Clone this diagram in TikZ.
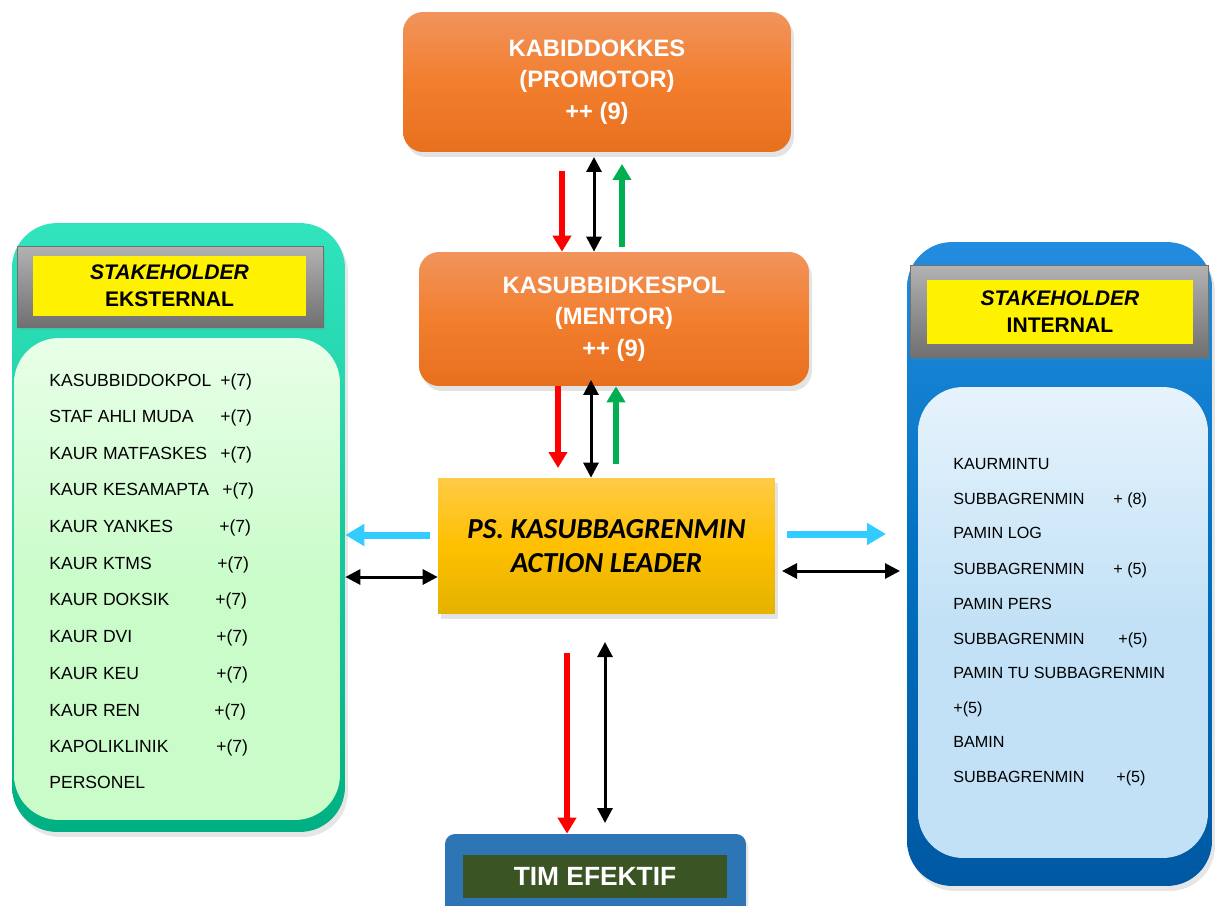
\documentclass[tikz,border=0pt]{standalone}
\usepackage{fontspec}
\setmainfont{Liberation Sans}
\newfontfamily\calibrifont{Carlito}
\usetikzlibrary{arrows.meta,shadows}

\definecolor{orTop}{RGB}{241,148,92}
\definecolor{orMid}{RGB}{242,126,46}
\definecolor{orBot}{RGB}{231,112,30}
\definecolor{gdTop}{RGB}{255,202,70}
\definecolor{gdMid}{RGB}{255,192,0}
\definecolor{gdBot}{RGB}{228,178,0}
\definecolor{tlTop}{RGB}{50,228,190}
\definecolor{tlBot}{RGB}{0,176,130}
\definecolor{lgTop}{RGB}{232,255,232}
\definecolor{lgBot}{RGB}{202,252,202}
\definecolor{blTop}{RGB}{35,140,222}
\definecolor{blMid}{RGB}{0,112,192}
\definecolor{blBot}{RGB}{0,88,162}
\definecolor{lbTop}{RGB}{230,243,252}
\definecolor{lbBot}{RGB}{194,225,246}
\definecolor{bvTop}{RGB}{178,178,178}
\definecolor{bvBot}{RGB}{112,112,112}
\definecolor{timBlue}{RGB}{46,117,182}
\definecolor{timGreen}{RGB}{58,84,36}
\definecolor{arRed}{RGB}{255,0,0}
\definecolor{arGreen}{RGB}{0,176,80}
\definecolor{arCyan}{RGB}{51,204,255}

\begin{document}
\begin{tikzpicture}[x=0.02cm, y=-0.02cm,
	orangebox/.style={rounded corners=0.4cm, top color=orTop, bottom color=orBot, middle color=orMid, text=white, align=center, font=\bfseries\fontsize{13.5}{18}\selectfont, drop shadow={opacity=0.22, shadow xshift=0.06cm, shadow yshift=-0.1cm}},
	leaderbox/.style={top color=gdTop, bottom color=gdBot, middle color=gdMid, align=center, font=\calibrifont\bfseries\itshape\fontsize{16.5}{19.8}\selectfont, drop shadow={opacity=0.22, shadow xshift=0.06cm, shadow yshift=-0.1cm}},
	outerbox/.style={rounded corners=0.9cm, drop shadow={opacity=0.2, shadow xshift=0.06cm, shadow yshift=-0.1cm}},
	panel/.style={rounded corners=0.9cm},
	bevel/.style={top color=bvTop, bottom color=bvBot, draw=bvBot, drop shadow={opacity=0.2, shadow xshift=0.04cm, shadow yshift=-0.06cm}},
	yellowlabel/.style={fill=yellow, align=center, font=\bfseries\fontsize{12}{15.3}\selectfont},
	item/.style={anchor=west, inner sep=0pt, text height=1.6ex, text depth=0.4ex, font=\fontsize{10}{12}\selectfont},
	itemsm/.style={anchor=west, inner sep=0pt, text height=1.6ex, text depth=0.4ex, font=\fontsize{9.2}{11}\selectfont},
	redarr/.style={draw=arRed, line width=0.12cm, -{Triangle[length=0.32cm, width=0.36cm]}},
	grnarr/.style={draw=arGreen, line width=0.12cm, -{Triangle[length=0.32cm, width=0.36cm]}},
	blkarr/.style={draw=black, line width=0.06cm, {Triangle[length=0.3cm, width=0.3cm]}-{Triangle[length=0.3cm, width=0.3cm]}},
	cyanarr/.style={draw=arCyan, line width=0.14cm, -{Triangle[length=0.38cm, width=0.42cm]}}]
	\useasboundingbox (0,0) rectangle (1215,906);

	\node[orangebox, minimum width=7.76cm, minimum height=2.8cm] (promotor) at (597,82) {KABIDDOKKES\\(PROMOTOR)\\++ (9)};
	\node[orangebox, minimum width=7.8cm, minimum height=2.68cm] (mentor) at (614,319) {KASUBBIDKESPOL\\(MENTOR)\\++ (9)};
	\node[leaderbox, minimum width=6.74cm, minimum height=2.72cm] (leader) at (606.5,546) {PS. KASUBBAGRENMIN\\ACTION LEADER};

	\node[outerbox, top color=tlTop, bottom color=tlBot, minimum width=6.66cm, minimum height=12.18cm] (eks) at (178.5,527.5) {};
	\node[panel, top color=lgTop, bottom color=lgBot, middle color=lgBot, minimum width=6.52cm, minimum height=9.64cm] (ekspanel) at (177,579) {};
	\node[bevel, minimum width=6.12cm, minimum height=1.62cm] (eksframe) at (170,286.5) {};
	\node[yellowlabel, minimum width=5.46cm, minimum height=1.2cm] (ekslabel) at (169.5,286) {\textit{STAKEHOLDER}\\EKSTERNAL};

	\node[item] (e1) at (49,381) {KASUBBIDDOKPOL};
	\node[item] (v1) at (220,381) {+(7)};
	\node[item] (e2) at (49,417) {STAF AHLI MUDA};
	\node[item] (v2) at (220,417) {+(7)};
	\node[item] (e3) at (49,454) {KAUR MATFASKES};
	\node[item] (v3) at (220,454) {+(7)};
	\node[item] (e4) at (49,490) {KAUR KESAMAPTA};
	\node[item] (v4) at (222,490) {+(7)};
	\node[item] (e5) at (49,527) {KAUR YANKES};
	\node[item] (v5) at (219,527) {+(7)};
	\node[item] (e6) at (49,564) {KAUR KTMS};
	\node[item] (v6) at (217,564) {+(7)};
	\node[item] (e7) at (49,600) {KAUR DOKSIK};
	\node[item] (v7) at (215,600) {+(7)};
	\node[item] (e8) at (49,637) {KAUR DVI};
	\node[item] (v8) at (216,637) {+(7)};
	\node[item] (e9) at (49,674) {KAUR KEU};
	\node[item] (v9) at (216,674) {+(7)};
	\node[item] (e10) at (49,711) {KAUR REN};
	\node[item] (v10) at (214,711) {+(7)};
	\node[item] (e11) at (49,747) {KAPOLIKLINIK};
	\node[item] (v11) at (216,747) {+(7)};
	\node[item] (e12) at (49,783) {PERSONEL};

	\node[outerbox, top color=blTop, bottom color=blBot, middle color=blMid, minimum width=6.1cm, minimum height=12.88cm] (int) at (1059.5,564) {};
	\node[panel, top color=lbTop, bottom color=lbBot, middle color=lbBot, minimum width=5.8cm, minimum height=9.42cm] (intpanel) at (1063,622.5) {};
	\node[bevel, minimum width=5.96cm, minimum height=1.84cm] (intframe) at (1059,311) {};
	\node[yellowlabel, minimum width=5.32cm, minimum height=1.28cm] (intlabel) at (1060,312) {\textit{STAKEHOLDER}\\INTERNAL};

	\node[itemsm] (i1) at (953,464) {KAURMINTU};
	\node[itemsm] (i2) at (953,499) {SUBBAGRENMIN};
	\node[itemsm] (w2) at (1113,499) {+ (8)};
	\node[itemsm] (i3) at (953,533) {PAMIN LOG};
	\node[itemsm] (i4) at (953,569) {SUBBAGRENMIN};
	\node[itemsm] (w4) at (1113,569) {+ (5)};
	\node[itemsm] (i5) at (953,604) {PAMIN PERS};
	\node[itemsm] (i6) at (953,639) {SUBBAGRENMIN};
	\node[itemsm] (w6) at (1118,639) {+(5)};
	\node[itemsm] (i7) at (953,673) {PAMIN TU SUBBAGRENMIN};
	\node[itemsm] (i8) at (953,708) {+(5)};
	\node[itemsm] (i9) at (953,742) {BAMIN};
	\node[itemsm] (i10) at (953,777) {SUBBAGRENMIN};
	\node[itemsm] (w10) at (1116,777) {+(5)};

	\node[rounded corners=0.2cm, fill=timBlue, minimum width=6.02cm, minimum height=1.72cm, drop shadow={opacity=0.2, shadow xshift=0.05cm, shadow yshift=-0.08cm}] (timbox) at (595.5,877) {};
	\node[fill=timGreen, text=white, minimum width=5.28cm, minimum height=0.86cm, font=\bfseries\fontsize{15}{17}\selectfont] (tim) at (595,876.5) {TIM EFEKTIF};

	\coordinate (r1) at (562,171);
	\draw[redarr] (r1) -- (r1 |- mentor.north);
	\coordinate (k1) at (594,157);
	\draw[blkarr] (k1) -- (k1 |- mentor.north);
	\coordinate (g1a) at (622,247);
	\coordinate (g1b) at (622,164);
	\draw[grnarr] (g1a) -- (g1b);

	\coordinate (r2) at (558,468);
	\draw[redarr] (r2 |- mentor.south) -- (r2);
	\coordinate (k2) at (591,380);
	\draw[blkarr] (k2) -- (k2 |- leader.north);
	\coordinate (g2) at (616,464);
	\draw[grnarr] (g2) -- (g2 |- mentor.south);

	\coordinate (c1) at (430,535);
	\draw[cyanarr] (c1) -- (c1 -| eks.east);
	\coordinate (k3) at (342,577);
	\draw[blkarr] (k3 -| eks.east) -- (k3 -| leader.west);

	\coordinate (c2a) at (787,534);
	\coordinate (c2b) at (886,534);
	\draw[cyanarr] (c2a) -- (c2b);
	\coordinate (k4a) at (782,571);
	\coordinate (k4b) at (900,571);
	\draw[blkarr] (k4a) -- (k4b);

	\coordinate (r3) at (567,653);
	\draw[redarr] (r3) -- (r3 |- timbox.north);
	\coordinate (k5a) at (605,642);
	\coordinate (k5b) at (605,823);
	\draw[blkarr] (k5a) -- (k5b);
\end{tikzpicture}
\end{document}
